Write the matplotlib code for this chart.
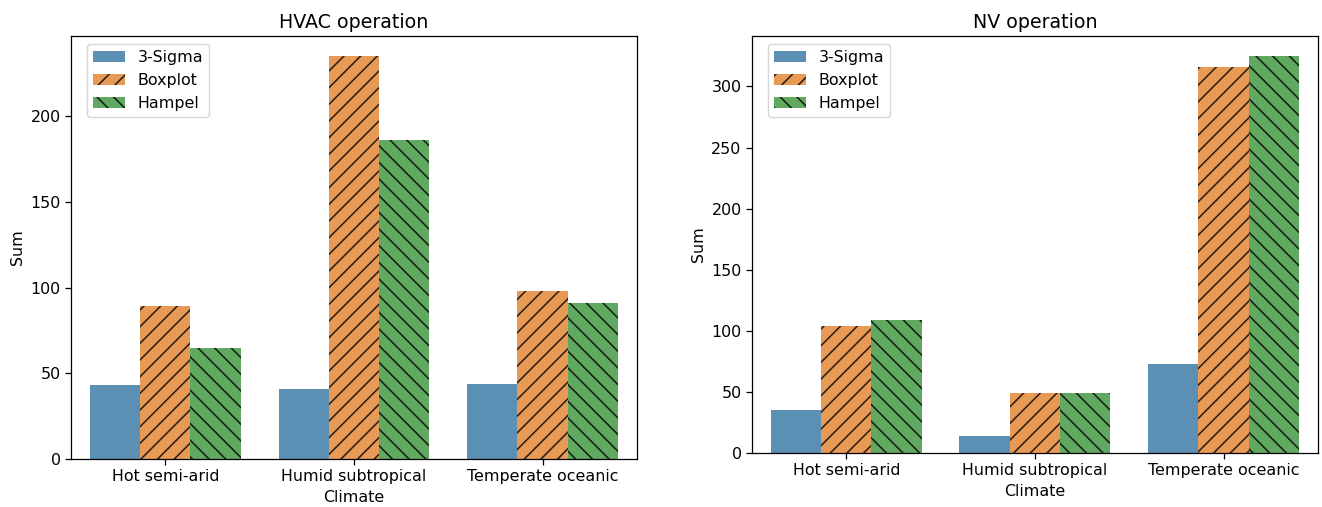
import numpy as np
import colorsys
import matplotlib
matplotlib.use("Agg")
import matplotlib.pyplot as plt
import matplotlib.colors as mcolors


# Outlier counts per climate and detection method
climates = ["Hot semi-arid", "Humid subtropical", "Temperate oceanic"]
methods = ["3-Sigma", "Boxplot", "Hampel"]

hvac_sigma = [43, 41, 44]
hvac_boxplot = [89, 235, 98]
hvac_hampel = [65, 186, 91]

nv_sigma = [35, 14, 73]
nv_boxplot = [104, 49, 316]
nv_hampel = [109, 49, 325]

hatches = ["", "//", "\\\\"]

plt.rcParams["font.size"] = 11.4
plt.rcParams["hatch.linewidth"] = 1.15
plt.rcParams["axes.linewidth"] = 0.9
plt.rcParams["xtick.major.size"] = 4
plt.rcParams["ytick.major.size"] = 4
plt.rcParams["xtick.major.width"] = 0.9
plt.rcParams["ytick.major.width"] = 0.9


def desaturate(color, prop=0.75):
    # same thing seaborn does to bar colours (saturation=0.75)
    r, g, b = mcolors.to_rgb(color)
    h, l, s = colorsys.rgb_to_hls(r, g, b)
    return colorsys.hls_to_rgb(h, l, s * prop)


colors = [desaturate(c) for c in ["#1f77b4", "#ff7f0e", "#2ca02c"]]


def grouped_bars(ax, series, title):
    x = np.arange(len(climates))
    width = 0.8 / len(series)
    for i, vals in enumerate(series):
        offset = (i - (len(series) - 1) / 2) * width
        ax.bar(x + offset, vals, width, color=colors[i], alpha=0.8,
               hatch=hatches[i], edgecolor="black", linewidth=0,
               label=methods[i])
    ax.set_xticks(x)
    ax.set_xticklabels(climates)
    ax.set_xlim(-0.5, len(climates) - 0.5)
    ax.set_xlabel("Climate")
    ax.set_ylabel("Sum")
    ax.set_title(title)
    ax.legend(loc="upper left", bbox_to_anchor=(0.014, 1))


fig = plt.figure(figsize=(13.22, 5.07), dpi=100)
ax1 = fig.add_axes([0.0537, 0.0947, 0.4281, 0.8343])
ax2 = fig.add_axes([0.5688, 0.1065, 0.4281, 0.8225])

grouped_bars(ax1, [hvac_sigma, hvac_boxplot, hvac_hampel], "HVAC operation")
grouped_bars(ax2, [nv_sigma, nv_boxplot, nv_hampel], "NV operation")

fig.savefig("out.png", dpi=100)
